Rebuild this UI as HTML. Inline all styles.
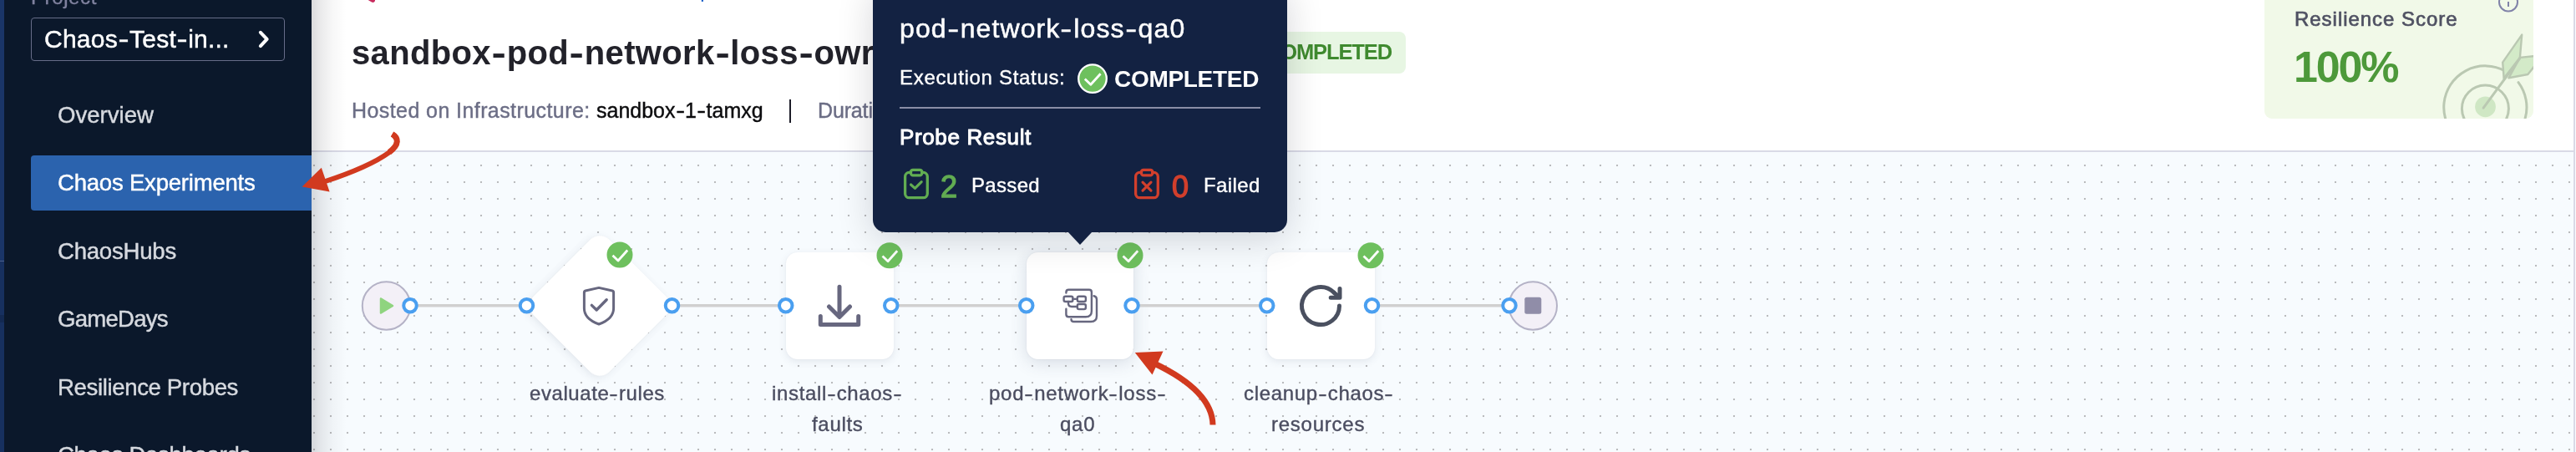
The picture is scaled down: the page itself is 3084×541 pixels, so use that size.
<!DOCTYPE html>
<html>
<head>
<meta charset="utf-8">
<title>Chaos Experiment</title>
<style>
*{box-sizing:border-box;margin:0;padding:0}
html,body{width:3084px;height:541px;overflow:hidden;background:#fff}
body{font-family:"Liberation Sans",sans-serif;position:relative}
.abs{position:absolute}
.t{position:absolute;white-space:nowrap;line-height:1;will-change:transform}
#strip{left:0;top:0;width:5px;height:541px;background:linear-gradient(#1a3568 0,#1a3568 312px,#4a5f8c 312px,#4a5f8c 313.5px,#17305f 313.5px,#17305f 377px,#132952 377px,#132952 386px,#17305f 386px)}
#side{left:5px;top:0;width:368px;height:541px;background:#0b182b}
#projbox{left:37px;top:21px;width:304px;height:52px;border:1px solid #666c88;border-radius:4px}
#sel{left:37px;top:186px;width:336px;height:66px;background:#2b63ae;border-radius:4px 0 0 4px}
#hdr{left:373px;top:0;width:2711px;height:180px;background:#fff}
#hdrline{left:373px;top:180px;width:2708px;height:2px;background:#d9dae6}
#canvas{left:373px;top:182px;width:2708px;height:359px;background-color:#f7fbfe;
 background-image:radial-gradient(circle at center,#babbbd 0.8px,rgba(186,187,189,0) 1.6px);
 background-size:20px 20px;background-position:13px 6px}
#sideshadow{left:373px;top:0;width:42px;height:541px;background:linear-gradient(90deg,rgba(10,10,20,.15),rgba(10,10,20,.085) 25%,rgba(10,10,20,.03) 60%,rgba(10,10,20,0))}
#rline{left:3081px;top:0;width:2px;height:541px;background:#d9d9e6;box-shadow:1px 0 0 #fbfbfd}
.node{position:absolute;width:128.5px;height:128px;top:302px;background:#fff;border-radius:14px;box-shadow:0 3px 10px rgba(60,70,100,.10),0 0 2px rgba(60,70,100,.06)}
#diamond{left:653.5px;top:301.75px;width:128px;height:128px;border-radius:16px;transform:rotate(45deg)}
#tip{left:1045px;top:-20px;width:496px;height:297.5px;background:#132242;border-radius:15px;box-shadow:0 8px 44px rgba(5,10,25,.165)}
#tiparrow{left:1277.5px;top:277px;width:0;height:0;border-left:15.5px solid transparent;border-right:15.5px solid transparent;border-top:16px solid #132242}
#badge{left:1494px;top:38px;width:188.5px;height:49.5px;background:#e7f6e3;border-radius:8px}
#card{left:2711px;top:-20px;width:322px;height:161.6px;background:#f1f9e8;border-radius:9px;overflow:hidden}
#sep{left:944.8px;top:119px;width:2.2px;height:27.5px;background:#1c1c28}
#tdiv{left:1077px;top:127.75px;width:432px;height:2px;background:#8a8ea6}
</style>
</head>
<body>
<!-- main surfaces -->
<div class="abs" id="hdr"></div>
<div class="abs" id="hdrline"></div>
<div class="abs" id="canvas"></div>
<div class="abs" id="sideshadow"></div>
<div class="abs" id="rline"></div>
<!-- tiny top marks -->
<svg class="abs" style="left:430px;top:0" width="420" height="6" viewBox="430 0 420 6"><path d="M441 0H449V1.2L447.2 3.1L445.4 2.8L441.4 0.5Z" fill="#c82c5e"/><rect x="839.8" y="0" width="2.2" height="1.9" fill="#1a5fc8"/></svg>

<div class="abs" id="sep"></div>
<div class="abs" id="badge"></div>
<div class="abs" id="card">
<svg width="322" height="162" viewBox="2711 -20 322 162" style="position:absolute;left:0;top:0">
 <g fill="none" stroke="#bac8b2" stroke-width="3" stroke-linecap="round">
  <path d="M3015 98.65A49.6 49.6 0 1 1 2998.7 84.7"/>
  <circle cx="2975.4" cy="130" r="28"/>
 </g>
 <circle cx="2975.5" cy="127.8" r="12.4" fill="#cfe7c4"/>
 <path d="M2973.2 129.2L3017 69.5" stroke="#bac8b2" stroke-width="3" fill="none" stroke-linecap="round"/>
 <path d="M2997.7 94.2L2996.2 74.6L3019.2 41.6L3016.9 68.9Z" fill="#d3eac8" stroke="#bac8b2" stroke-width="2.4" stroke-linejoin="round"/>
 <path d="M3003.4 93.3L3016.9 68.9L3036 67L3036 77L3026.4 89Z" fill="#d3eac8" stroke="#bac8b2" stroke-width="2.4" stroke-linejoin="round"/>
 <path d="M2997.7 94.2L3017 69.5" stroke="#bac8b2" stroke-width="3" fill="none"/>
 <circle cx="3003" cy="2.5" r="11" fill="none" stroke="#8183a8" stroke-width="2"/>
 <path d="M3003 2V8" stroke="#8183a8" stroke-width="2"/>
</svg>
</div>
<div class="t" id="title" style="left:421.00px;top:43.02px;font-size:40px;color:#22222a;letter-spacing:0.333px;font-weight:bold;">sandbox<span style="display:inline-block;padding:0 2.60px;transform:scaleX(1.3)">-</span>pod<span style="display:inline-block;padding:0 2.60px;transform:scaleX(1.3)">-</span>network<span style="display:inline-block;padding:0 2.60px;transform:scaleX(1.3)">-</span>loss<span style="display:inline-block;padding:0 2.60px;transform:scaleX(1.3)">-</span>owr</div>
<div class="t" id="hosted" style="left:421.00px;top:119.60px;font-size:25px;color:#6b6d85;letter-spacing:0.417px;-webkit-text-stroke:0.40px #6b6d85;">Hosted on Infrastructure:</div>
<div class="t" id="infra" style="left:714.00px;top:119.60px;font-size:25px;color:#0b0b0d;letter-spacing:0.000px;-webkit-text-stroke:0.40px #0b0b0d;">sandbox<span style="display:inline-block;padding:0 1.62px;transform:scaleX(1.3)">-</span>1<span style="display:inline-block;padding:0 1.62px;transform:scaleX(1.3)">-</span>tamxg</div>
<div class="t" id="dur" style="left:979.00px;top:119.60px;font-size:25px;color:#6b6d85;letter-spacing:-0.143px;-webkit-text-stroke:0.40px #6b6d85;">Duration</div>
<div class="t" id="badget" style="left:1516.00px;top:50.42px;font-size:25.5px;color:#3f8a2f;letter-spacing:-1.125px;font-weight:bold;">COMPLETED</div>
<div class="t" id="rs" style="left:2747.00px;top:10.51px;font-size:24px;color:#4f5162;letter-spacing:0.967px;-webkit-text-stroke:0.7px #4f5162;">Resilience Score</div>
<div class="t" id="pct" style="left:2746.00px;top:54.21px;font-size:52px;color:#4d993a;letter-spacing:-2.167px;font-weight:bold;">100%</div>
<div class="t" id="l1" style="left:633.50px;top:459.41px;font-size:24px;color:#4b4d60;letter-spacing:0.577px;-webkit-text-stroke:0.38px #4b4d60;">evaluate<span style="display:inline-block;padding:0 1.56px;transform:scaleX(1.3)">-</span>rules</div>
<div class="t" id="l2a" style="left:924.00px;top:459.41px;font-size:24px;color:#4b4d60;letter-spacing:0.654px;-webkit-text-stroke:0.38px #4b4d60;">install<span style="display:inline-block;padding:0 1.56px;transform:scaleX(1.3)">-</span>chaos<span style="display:inline-block;padding:0 1.56px;transform:scaleX(1.3)">-</span></div>
<div class="t" id="l2b" style="left:971.50px;top:495.66px;font-size:24px;color:#4b4d60;letter-spacing:0.700px;-webkit-text-stroke:0.38px #4b4d60;">faults</div>
<div class="t" id="l3a" style="left:1184.00px;top:459.41px;font-size:24px;color:#4b4d60;letter-spacing:0.750px;-webkit-text-stroke:0.38px #4b4d60;">pod<span style="display:inline-block;padding:0 1.56px;transform:scaleX(1.3)">-</span>network<span style="display:inline-block;padding:0 1.56px;transform:scaleX(1.3)">-</span>loss<span style="display:inline-block;padding:0 1.56px;transform:scaleX(1.3)">-</span></div>
<div class="t" id="l3b" style="left:1269.00px;top:495.66px;font-size:24px;color:#4b4d60;letter-spacing:0.750px;-webkit-text-stroke:0.38px #4b4d60;">qa0</div>
<div class="t" id="l4a" style="left:1488.50px;top:459.41px;font-size:24px;color:#4b4d60;letter-spacing:0.692px;-webkit-text-stroke:0.38px #4b4d60;">cleanup<span style="display:inline-block;padding:0 1.56px;transform:scaleX(1.3)">-</span>chaos<span style="display:inline-block;padding:0 1.56px;transform:scaleX(1.3)">-</span></div>
<div class="t" id="l4b" style="left:1522.00px;top:495.66px;font-size:24px;color:#4b4d60;letter-spacing:0.750px;-webkit-text-stroke:0.38px #4b4d60;">resources</div>


<!-- nodes -->
<div class="node" id="diamond"></div>
<div class="node" style="left:941px"></div>
<div class="node" style="left:1228.75px;box-shadow:0 4px 20px rgba(60,70,100,.17),0 0 3px rgba(60,70,100,.08)"></div>
<div class="node" style="left:1517px"></div>

<!-- pipeline svg -->
<svg class="abs" id="pipe" style="left:0;top:0" width="3084" height="541" viewBox="0 0 3084 541">
 <g stroke="#d0d0d0" stroke-width="3.5">
  <path d="M491 365.75H630.5M804.5 365.75H940.75M1066.75 365.75H1229M1355 365.75H1516.75M1642.5 365.75H1807"/>
 </g>
 <circle cx="462.5" cy="366" r="28.7" fill="#f3f0f7" stroke="#b4b2c6" stroke-width="2"/>
 <path d="M456 357.5L470 366L456 374.5Z" fill="#8fd47f" stroke="#8fd47f" stroke-width="2.5" stroke-linejoin="round"/>
 <circle cx="1835.3" cy="366" r="28.7" fill="#f3f0f7" stroke="#b4b2c6" stroke-width="2"/>
 <rect x="1825.3" y="355.8" width="20" height="20" rx="2.5" fill="#908da8"/>
 <g fill="#fff" stroke="#4a9ff0" stroke-width="4">
  <circle cx="491" cy="365.75" r="7.75"/><circle cx="630.5" cy="365.75" r="7.75"/>
  <circle cx="804.5" cy="365.75" r="7.75"/><circle cx="940.75" cy="365.75" r="7.75"/>
  <circle cx="1066.75" cy="365.75" r="7.75"/><circle cx="1228.75" cy="365.75" r="7.75"/>
  <circle cx="1355" cy="365.75" r="7.75"/><circle cx="1516.75" cy="365.75" r="7.75"/>
  <circle cx="1642.5" cy="365.75" r="7.75"/><circle cx="1807" cy="365.75" r="7.75"/>
 </g>
 <!-- badges -->
 <g id="bdg">
  <circle cx="742" cy="305" r="15.5" fill="#6ec05e"/>
  <path d="M733.5 305.7L740 312L751.2 299.5" fill="none" stroke="#fff" stroke-width="2.8" stroke-linejoin="round"/>
 </g>
 <g transform="translate(323 0.75)"><circle cx="742" cy="305" r="15.5" fill="#6ec05e"/><path d="M733.5 305.7L740 312L751.2 299.5" fill="none" stroke="#fff" stroke-width="2.8" stroke-linejoin="round"/></g>
 <g transform="translate(611 0.75)"><circle cx="742" cy="305" r="15.5" fill="#6ec05e"/><path d="M733.5 305.7L740 312L751.2 299.5" fill="none" stroke="#fff" stroke-width="2.8" stroke-linejoin="round"/></g>
 <g transform="translate(899 0.75)"><circle cx="742" cy="305" r="15.5" fill="#6ec05e"/><path d="M733.5 305.7L740 312L751.2 299.5" fill="none" stroke="#fff" stroke-width="2.8" stroke-linejoin="round"/></g>
 <!-- shield -->
 <g fill="none" stroke="#67677f" stroke-width="3" stroke-linejoin="round" stroke-linecap="round">
  <path d="M717 344.4L733 348Q734.6 348.4 734.6 350V369C734.6 380 725.5 385 717 388C708.5 385 699.4 380 699.4 369V350Q699.4 348.4 701 348Z"/>
  <path d="M708.4 365.4L714.2 371L726.2 358.8" stroke-width="3.4"/>
 </g>
 <!-- download -->
 <g fill="none" stroke="#67677f" stroke-width="5" stroke-linecap="round" stroke-linejoin="round">
  <path d="M1005 343.3V378.5M992.5 367L1005 379.5L1017.5 367"/>
  <path d="M982.3 378.5V388.5H1027.7V378.5"/>
 </g>
 <!-- stack / fault icon -->
 <g fill="none" stroke="#67677f" stroke-width="2.4" stroke-linecap="round" stroke-linejoin="round">
  <path d="M1276.4 350.6V349.7Q1276.4 346.7 1279.4 346.7H1303.9Q1306.9 346.7 1306.9 349.7V372.2Q1306.9 379.2 1299.9 379.2H1279.4Q1276.4 379.2 1276.4 376.2V369.8"/>
  <path d="M1309.6 354.3Q1313 355 1313 358.6V378Q1313 385 1306 385H1285.5Q1282.7 385 1282.5 382.3"/>
  <rect x="1273.6" y="354.8" width="10.8" height="6.2" rx="2"/>
  <rect x="1289.8" y="354.8" width="10.1" height="6.2" rx="2"/>
  <rect x="1289.8" y="364" width="10.1" height="6.1" rx="2"/>
  <path d="M1284.4 357.9H1289.8M1279 361V363Q1279 367 1283 367H1289.8"/>
 </g>
 <!-- refresh -->
 <g fill="none" stroke="#4a5060" stroke-width="5" stroke-linecap="round" stroke-linejoin="round">
  <path d="M1603.5 366A22.5 22.5 0 1 1 1596.9 350.1"/>
  <path d="M1604 345.6V356.2H1593.2"/><path d="M1596.9 350.1L1603 355.4"/>
 </g>
 <!-- red arrow 2 -->
 <path d="M1452 508.5C1451.5 480 1426 456 1382 435" fill="none" stroke="#d13a1f" stroke-width="7"/>
 <path d="M1358.75 422L1392.5 420.5L1379.5 448.5Z" fill="#d13a1f"/>
</svg>

<!-- tooltip -->
<div class="abs" id="tip"></div>
<div class="abs" id="tiparrow"></div>
<div class="abs" id="tdiv"></div>
<svg class="abs" style="left:1045px;top:0" width="496" height="278" viewBox="1045 0 496 278">
 <circle cx="1308" cy="94.1" r="16.8" fill="#6ec05e" stroke="#fff" stroke-width="2.3"/>
 <path d="M1298.8 94.6L1305.8 101.2L1317.6 88.2" fill="none" stroke="#fff" stroke-width="2.8" stroke-linejoin="round"/>
 <g fill="none" stroke="#62ad52" stroke-width="3.3" stroke-linejoin="round" stroke-linecap="round">
  <rect x="1083.6" y="206.4" width="26.7" height="30.3" rx="5"/>
  <rect x="1090.5" y="203.3" width="13.2" height="6.6" rx="2.5" fill="#132242"/>
  <path d="M1090.5 221L1095.4 225.4L1103.2 217.7" stroke-width="3.1"/>
 </g>
 <g fill="none" stroke="#d23f2c" stroke-width="3.3" stroke-linejoin="round" stroke-linecap="round">
  <rect x="1359.6" y="206.4" width="26.7" height="30.3" rx="5"/>
  <rect x="1366.5" y="203.3" width="13.2" height="6.6" rx="2.5" fill="#132242"/>
  <path d="M1368 218.2L1378 228.2M1378 218.2L1368 228.2" stroke-width="3.1"/>
 </g>
</svg>
<div class="t" id="ttitle" style="left:1077.00px;top:18.20px;font-size:32px;color:#ffffff;letter-spacing:1.105px;-webkit-text-stroke:0.51px #ffffff;">pod<span style="display:inline-block;padding:0 2.08px;transform:scaleX(1.3)">-</span>network<span style="display:inline-block;padding:0 2.08px;transform:scaleX(1.3)">-</span>loss<span style="display:inline-block;padding:0 2.08px;transform:scaleX(1.3)">-</span>qa0</div>
<div class="t" id="exec" style="left:1077.00px;top:81.12px;font-size:24px;color:#ffffff;letter-spacing:0.688px;-webkit-text-stroke:0.38px #ffffff;">Execution Status:</div>
<div class="t" id="comp" style="left:1334.40px;top:81.41px;font-size:28px;color:#ffffff;letter-spacing:-0.300px;font-weight:bold;">COMPLETED</div>
<div class="t" id="probe" style="left:1077.00px;top:151.11px;font-size:26px;color:#ffffff;letter-spacing:0.636px;-webkit-text-stroke:1.0px #ffffff;">Probe Result</div>
<div class="t" id="two" style="left:1126.00px;top:206.01px;font-size:36px;color:#62ad52;letter-spacing:0.000px;-webkit-text-stroke:1.3px #62ad52;">2</div>
<div class="t" id="passed" style="left:1163.00px;top:209.71px;font-size:24px;color:#ffffff;letter-spacing:0.320px;-webkit-text-stroke:0.38px #ffffff;">Passed</div>
<div class="t" id="zero" style="left:1403.00px;top:206.01px;font-size:36px;color:#d23f2c;letter-spacing:0.000px;-webkit-text-stroke:1.3px #d23f2c;">0</div>
<div class="t" id="failed" style="left:1440.50px;top:209.71px;font-size:24px;color:#ffffff;letter-spacing:0.380px;-webkit-text-stroke:0.38px #ffffff;">Failed</div>


<!-- sidebar -->
<div class="abs" id="side"></div>
<div class="abs" id="strip"></div>
<div class="abs" id="projbox"></div>
<div class="abs" id="sel"></div>
<svg class="abs" style="left:300px;top:30px" width="34" height="34" viewBox="300 30 34 34">
 <path d="M311.9 38.8L319.6 46.95L311.9 55.1" fill="none" stroke="#fff" stroke-width="4.1" stroke-linecap="round" stroke-linejoin="round"/>
</svg>
<div class="t" id="proj" style="left:37.40px;top:-14.99px;font-size:24px;color:#80829f;letter-spacing:0.600px;-webkit-text-stroke:0.38px #80829f;">Project</div>
<div class="t" id="pname" style="left:53.40px;top:32.00px;font-size:30px;color:#ffffff;letter-spacing:0.240px;-webkit-text-stroke:0.48px #ffffff;">Chaos<span style="display:inline-block;padding:0 1.95px;transform:scaleX(1.3)">-</span>Test<span style="display:inline-block;padding:0 1.95px;transform:scaleX(1.3)">-</span>in...</div>
<div class="t" id="n1" style="left:69.00px;top:123.60px;font-size:27.6px;color:#d6d9df;letter-spacing:0.000px;-webkit-text-stroke:0.44px #d6d9df;">Overview</div>
<div class="t" id="n2" style="left:69.00px;top:205.10px;font-size:27.6px;color:#ffffff;letter-spacing:-0.250px;-webkit-text-stroke:0.44px #ffffff;">Chaos Experiments</div>
<div class="t" id="n3" style="left:69.00px;top:286.60px;font-size:27.6px;color:#d6d9df;letter-spacing:-0.250px;-webkit-text-stroke:0.44px #d6d9df;">ChaosHubs</div>
<div class="t" id="n4" style="left:69.00px;top:368.10px;font-size:27.6px;color:#d6d9df;letter-spacing:-0.786px;-webkit-text-stroke:0.44px #d6d9df;">GameDays</div>
<div class="t" id="n5" style="left:69.00px;top:449.60px;font-size:27.6px;color:#d6d9df;letter-spacing:-0.375px;-webkit-text-stroke:0.44px #d6d9df;">Resilience Probes</div>
<div class="t" id="n6" style="left:69.00px;top:531.10px;font-size:27.6px;color:#d6d9df;letter-spacing:-0.333px;-webkit-text-stroke:0.44px #d6d9df;">Chaos Dashboards</div>


<!-- red arrow 1 (over sidebar edge) -->
<svg class="abs" style="left:350px;top:150px" width="140" height="90" viewBox="350 150 140 90">
 <path d="M469.6 160.6C477 165 478.5 173 466 182.3C450 194 420 207 388 217.5" fill="none" stroke="#d13a1f" stroke-width="6"/><path d="M469.6 160.6C477 165 478.5 173 466 182.3" fill="none" stroke="#d13a1f" stroke-width="7"/>
 <path d="M361.6 223.6L384.8 200.8L394.6 229.4Z" fill="#d13a1f"/>
</svg>
</body>
</html>
